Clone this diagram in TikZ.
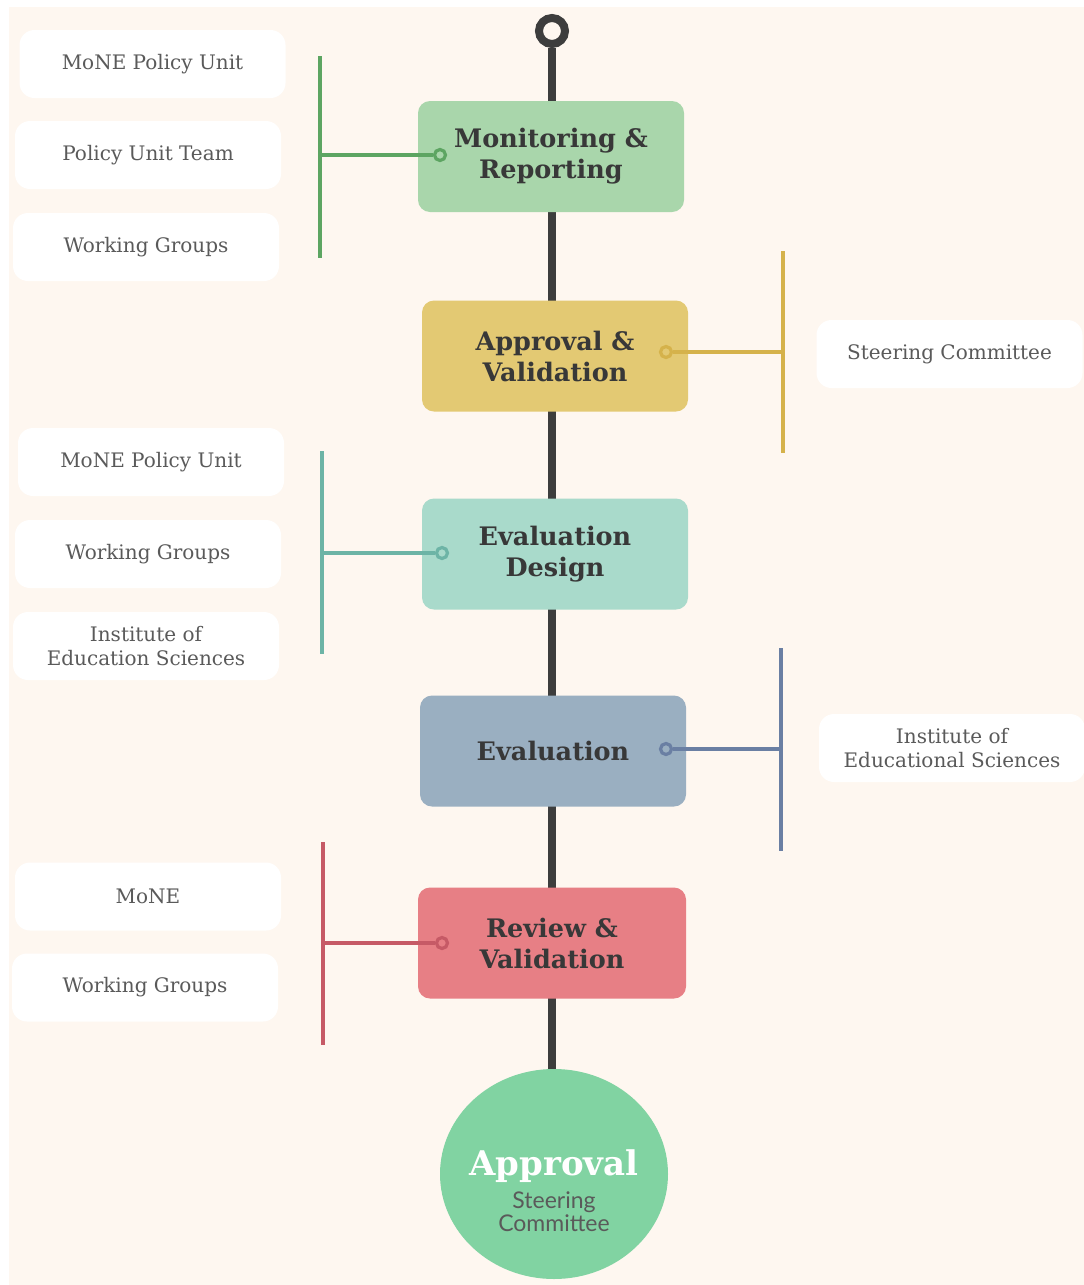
\documentclass[tikz,border=0pt]{standalone}
\usepackage{fontspec}
\usetikzlibrary{shapes.geometric}
\setmainfont{DejaVu Serif}
\newfontfamily\headfont{DejaVu Serif}
\newfontfamily\subfont{Lato}

\definecolor{cream}{HTML}{FEF7F0}
\definecolor{spinecol}{HTML}{3D3D3D}
\definecolor{headtext}{HTML}{383838}
\definecolor{labeltext}{HTML}{5A5A5A}
\definecolor{greenbox}{HTML}{A9D6AB}
\definecolor{greenline}{HTML}{5DA562}
\definecolor{yellowbox}{HTML}{E3C973}
\definecolor{yellowline}{HTML}{D5B24B}
\definecolor{tealbox}{HTML}{A9DACB}
\definecolor{tealline}{HTML}{6DB4A6}
\definecolor{bluebox}{HTML}{9AAFC1}
\definecolor{blueline}{HTML}{6A7FA3}
\definecolor{redbox}{HTML}{E77F85}
\definecolor{redline}{HTML}{C65A66}
\definecolor{finalfill}{HTML}{81D3A2}

\tikzset{
  stagebox/.style={rectangle, rounded corners=12pt, draw=none, fill=#1,
    minimum width=266pt, minimum height=111pt, align=center,
    text=headtext, font=\headfont\bfseries\fontsize{25.5}{31}\selectfont},
  actorbox/.style={rectangle, rounded corners=15pt, draw=none, fill=white,
    minimum width=266pt, minimum height=68pt, align=center,
    text=labeltext, font=\fontsize{20}{24}\selectfont},
  joint/.style={circle, draw=#1, line width=3.2pt, fill=none,
    minimum size=11pt, inner sep=0pt},
  branch/.style={draw=#1, line width=3.5pt},
  spine/.style={draw=spinecol, line width=8pt}
}

\begin{document}
\begin{tikzpicture}[x=1pt,y=-1pt]
  % canvas and panel
  \useasboundingbox (0,0) rectangle (1084,1285);
  \fill[white] (0,0) rectangle (1084,1285);
  \fill[cream] (9,7) rectangle (1084,1285);

  % top ring and final milestone
  \node[circle, draw=spinecol, line width=8pt, fill=cream, minimum size=26pt, inner sep=0pt] (start) at (552,31) {};
  \node[ellipse, fill=finalfill, draw=none, minimum width=228pt, minimum height=210pt, inner sep=0pt] (final) at (554,1174) {};

  % timeline spine
  \draw[spine] (start.south) -- (start.south |- final.north);

  % stages
  \node[stagebox=greenbox]  (mon)  at (551,156.5) {Monitoring \&\\Reporting};
  \node[stagebox=yellowbox] (appr) at (555,356)   {Approval \&\\Validation};
  \node[stagebox=tealbox]   (des)  at (555,554)   {Evaluation\\Design};
  \node[stagebox=bluebox]   (eval) at (553,751)   {Evaluation};
  \node[stagebox=redbox, minimum width=268pt] (rev) at (552,943) {Review \&\\Validation};

  % final milestone text
  \node[text=white, font=\headfont\bfseries\fontsize{34}{38}\selectfont] (fintitle) at (554,1166) {Approval};
  \node[text=labeltext, align=center, font=\subfont\fontsize{23}{23}\selectfont] (finsub) at (554,1212) {Steering\\Committee};

  % actors
  \node[actorbox] (a1)  at (152.5,64)  {MoNE Policy Unit};
  \node[actorbox] (a2)  at (148,155)   {Policy Unit Team};
  \node[actorbox] (a3)  at (146,247)   {Working Groups};
  \node[actorbox] (a4)  at (949.5,354) {Steering Committee};
  \node[actorbox] (a5)  at (151,462)   {MoNE Policy Unit};
  \node[actorbox] (a6)  at (148,554)   {Working Groups};
  \node[actorbox] (a7)  at (146,646)   {Institute of\\Education Sciences};
  \node[actorbox] (a8)  at (952,748)   {Institute of\\Educational Sciences};
  \node[actorbox] (a9)  at (148,896.5) {MoNE};
  \node[actorbox] (a10) at (145,987.5) {Working Groups};

  % branch bars
  \coordinate (g1) at (320,56);   \coordinate (g2) at (320,258);
  \coordinate (y1) at (783,251);  \coordinate (y2) at (783,453);
  \coordinate (t1) at (322,451);  \coordinate (t2) at (322,654);
  \coordinate (b1) at (781,648);  \coordinate (b2) at (781,851);
  \coordinate (r1) at (323,842);  \coordinate (r2) at (323,1045);

  \node[joint=greenline]  (jg) at (440,155) {};
  \node[joint=yellowline] (jy) at (666,352) {};
  \node[joint=tealline]   (jt) at (442,553) {};
  \node[joint=blueline]   (jb) at (666,749) {};
  \node[joint=redline]    (jr) at (442,943) {};

  \draw[branch=greenline]  (g1) -- (g2);
  \draw[branch=greenline]  (jg.west) -- (jg.west -| g1);
  \draw[branch=yellowline] (y1) -- (y2);
  \draw[branch=yellowline] (jy.east) -- (jy.east -| y1);
  \draw[branch=tealline]   (t1) -- (t2);
  \draw[branch=tealline]   (jt.west) -- (jt.west -| t1);
  \draw[branch=blueline]   (b1) -- (b2);
  \draw[branch=blueline]   (jb.east) -- (jb.east -| b1);
  \draw[branch=redline]    (r1) -- (r2);
  \draw[branch=redline]    (jr.west) -- (jr.west -| r1);
\end{tikzpicture}
\end{document}
